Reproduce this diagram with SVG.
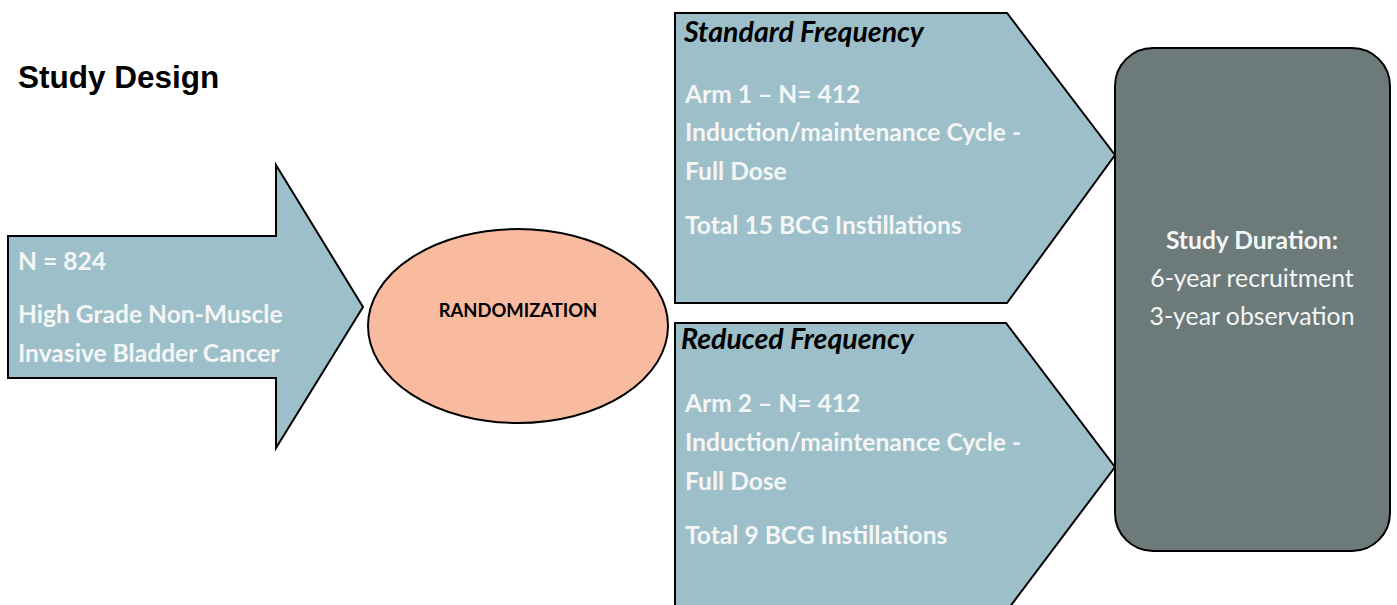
<svg xmlns="http://www.w3.org/2000/svg" width="1397" height="605" viewBox="0 0 1397 605">
<style>
.blue{fill:#9DBFC9;stroke:#000;stroke-width:2;stroke-linejoin:miter}
.w{font-family:Lato,"Open Sans","Liberation Sans",sans-serif;font-weight:bold;font-size:24.6px;fill:#F4F6F6}
.wn{font-family:Lato,"Open Sans","Liberation Sans",sans-serif;font-size:24.8px;fill:#F4F6F6}
.h{font-family:Lato,"Open Sans","Liberation Sans",sans-serif;font-weight:bold;font-style:italic;font-size:28.5px;fill:#000}
</style>
<rect width="1397" height="605" fill="#fff"/>
<g id="title"><text x="18" y="88" font-family="Liberation Sans,Arial,sans-serif" font-weight="bold" font-size="31.5" fill="#000">Study Design</text></g>
<g id="population">
<polygon class="blue" points="8,236 276,236 276,165 363,307 276,448 276,378 8,378"/>
<text class="w" x="18" y="270">N = 824</text>
<text class="w" x="18" y="323">High Grade Non-Muscle</text>
<text class="w" x="18" y="362">Invasive Bladder Cancer</text>
</g>
<g id="randomization">
<ellipse cx="518" cy="326" rx="150" ry="97" fill="#F9BBA0" stroke="#000" stroke-width="2"/>
<text x="518" y="317" text-anchor="middle" font-family="Lato,'Open Sans',sans-serif" font-weight="bold" font-size="18.4" fill="#000">RANDOMIZATION</text>
</g>
<g id="arm1">
<polygon class="blue" points="675,13 1007,13 1115,155 1007,303 675,303"/>
<text class="h" x="684" y="42">Standard Frequency</text>
<text class="w" x="685" y="103">Arm 1 – N= 412</text>
<text class="w" x="685" y="141">Induction/maintenance Cycle -</text>
<text class="w" x="685" y="180">Full Dose</text>
<text class="w" x="685" y="234">Total 15 BCG Instillations</text>
</g>
<g id="arm2">
<polygon class="blue" points="675,323 1006,323 1115,467 1006,612 675,612"/>
<text class="h" x="681" y="349">Reduced Frequency</text>
<text class="w" x="685" y="412">Arm 2 – N= 412</text>
<text class="w" x="685" y="451">Induction/maintenance Cycle -</text>
<text class="w" x="685" y="490">Full Dose</text>
<text class="w" x="685" y="544">Total 9 BCG Instillations</text>
</g>
<g id="duration">
<rect x="1115" y="48" width="275" height="503" rx="38" ry="38" fill="#6C7A7A" stroke="#000" stroke-width="2"/>
<text class="w" x="1252" y="249" text-anchor="middle">Study Duration:</text>
<text class="wn" x="1252" y="287" text-anchor="middle">6-year recruitment</text>
<text class="wn" x="1252" y="325" text-anchor="middle">3-year observation</text>
</g>
<g id="connectors"></g>
</svg>
